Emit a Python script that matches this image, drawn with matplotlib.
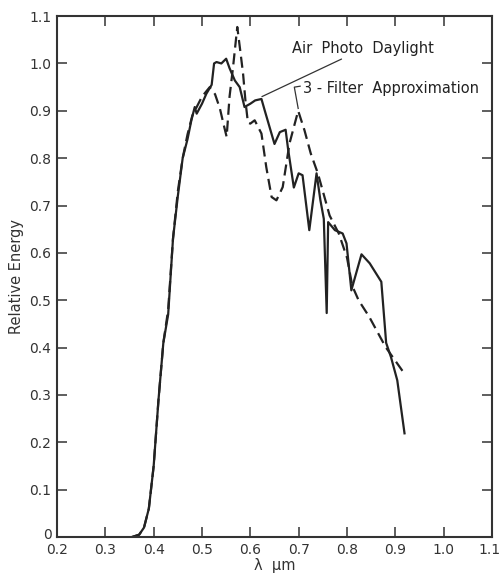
import numpy as np
import matplotlib
matplotlib.use("Agg")
import matplotlib.pyplot as plt
import matplotlib.transforms as mtrans

# Air Photo Daylight (solid curve)
wl_day = [0.355, 0.37, 0.38, 0.39, 0.40, 0.41, 0.42, 0.43, 0.435, 0.44, 0.45, 0.46,
          0.47, 0.478, 0.485, 0.489, 0.50, 0.509, 0.52, 0.525, 0.53, 0.54, 0.55, 0.557,
          0.568, 0.578, 0.588, 0.60, 0.61, 0.623, 0.63, 0.64, 0.65, 0.661, 0.673, 0.678,
          0.69, 0.70, 0.708, 0.722, 0.737, 0.745, 0.752, 0.758, 0.761, 0.775, 0.791,
          0.799, 0.809, 0.83, 0.847, 0.871, 0.881, 0.891, 0.904, 0.919]
e_day = [0.0, 0.005, 0.02, 0.06, 0.15, 0.29, 0.41, 0.47, 0.55, 0.63, 0.72, 0.80,
         0.84, 0.88, 0.908, 0.894, 0.915, 0.936, 0.955, 1.0, 1.003, 1.0, 1.01, 0.99,
         0.964, 0.95, 0.908, 0.915, 0.922, 0.925, 0.90, 0.865, 0.83, 0.855, 0.86, 0.82,
         0.738, 0.768, 0.764, 0.648, 0.768, 0.711, 0.672, 0.473, 0.665, 0.648, 0.641,
         0.62, 0.521, 0.597, 0.578, 0.539, 0.41, 0.38, 0.331, 0.219]

# 3-Filter Approximation (dashed curve)
wl_filt = [0.355, 0.37, 0.38, 0.39, 0.40, 0.41, 0.42, 0.43, 0.44, 0.45, 0.46, 0.47,
           0.48, 0.49, 0.50, 0.516, 0.527, 0.537, 0.545, 0.551, 0.557, 0.564, 0.573,
           0.58, 0.585, 0.59, 0.595, 0.60, 0.609, 0.623, 0.633, 0.644, 0.654, 0.667,
           0.681, 0.699, 0.712, 0.725, 0.740, 0.764, 0.783, 0.80, 0.811, 0.824, 0.846,
           0.88, 0.914, 0.92]
e_filt = [0.0, 0.005, 0.02, 0.06, 0.15, 0.29, 0.41, 0.48, 0.63, 0.73, 0.80, 0.85,
          0.89, 0.91, 0.93, 0.95, 0.935, 0.905, 0.87, 0.845, 0.93, 0.99, 1.077,
          1.02, 0.978, 0.92, 0.875, 0.873, 0.880, 0.852, 0.781, 0.718, 0.711, 0.739,
          0.831, 0.90, 0.859, 0.81, 0.767, 0.679, 0.641, 0.59, 0.53, 0.50, 0.465,
          0.401, 0.352, 0.345]

xticks = [0.2, 0.3, 0.4, 0.5, 0.6, 0.7, 0.8, 0.9, 1.0, 1.1]
xlabels = ["0.2", "0.3", "0.4", "0.5", "0.6", "0.7", "0.8", "0.9", "1.0", "1.1"]
yticks = [0, 0.1, 0.2, 0.3, 0.4, 0.5, 0.6, 0.7, 0.8, 0.9, 1.0, 1.1]
ylabels = ["0", "0.1", "0.2", "0.3", "0.4", "0.5", "0.6", "0.7", "0.8", "0.9", "1.0", "1.1"]

fig = plt.figure(figsize=(5, 5.75), dpi=100)
ax = fig.add_axes([0.114, 0.066, 0.870, 0.906])

ink = "#222222"
ax.plot(wl_day, e_day, color=ink, lw=1.6)
ax.plot(wl_filt, e_filt, color=ink, lw=1.6, dashes=(5, 2.6))

ax.set_xlim(0.2, 1.1)
ax.set_ylim(0, 1.1)
ax.set_xticks(xticks)
ax.set_xticklabels(xlabels)
ax.set_yticks(yticks)
ax.set_yticklabels(ylabels)
ax.tick_params(direction="in", length=7, width=1.1, labelsize=10, colors="#333333",
               top=True, right=True)
ax.tick_params(axis="x", labeltop=False, pad=4)
ax.tick_params(axis="y", labelright=False, pad=4)
for sp in ax.spines.values():
    sp.set_linewidth(1.5)
    sp.set_color("#333333")

# nudge the corner labels like the original print
fig.canvas.draw()
lab0 = ax.get_yticklabels()[0]
lab0.set_transform(lab0.get_transform() + mtrans.ScaledTranslation(0, 4 / 100, fig.dpi_scale_trans))
lab11 = ax.get_xticklabels()[-1]
lab11.set_transform(lab11.get_transform() + mtrans.ScaledTranslation(-3 / 100, 0, fig.dpi_scale_trans))

ax.set_xlabel("λ  μm", fontsize=10.5, color="#333333", labelpad=1)
ax.set_ylabel("Relative Energy", fontsize=10.5, color="#333333", labelpad=4)

# curve labels with leader lines
ax.annotate("Air  Photo  Daylight", xy=(0.624, 0.930), xytext=(0.687, 1.031),
            fontsize=10.5, color=ink, va="center", ha="left",
            arrowprops=dict(arrowstyle="-", color="#333333", lw=0.9,
                            shrinkA=0, shrinkB=0))
ax.text(0.708, 0.947, "3 - Filter  Approximation", fontsize=10.5, color=ink,
        va="center", ha="left")
ax.plot([0.703, 0.691, 0.699], [0.952, 0.950, 0.905], color="#333333", lw=0.9)

fig.savefig("out.png", dpi=100)
